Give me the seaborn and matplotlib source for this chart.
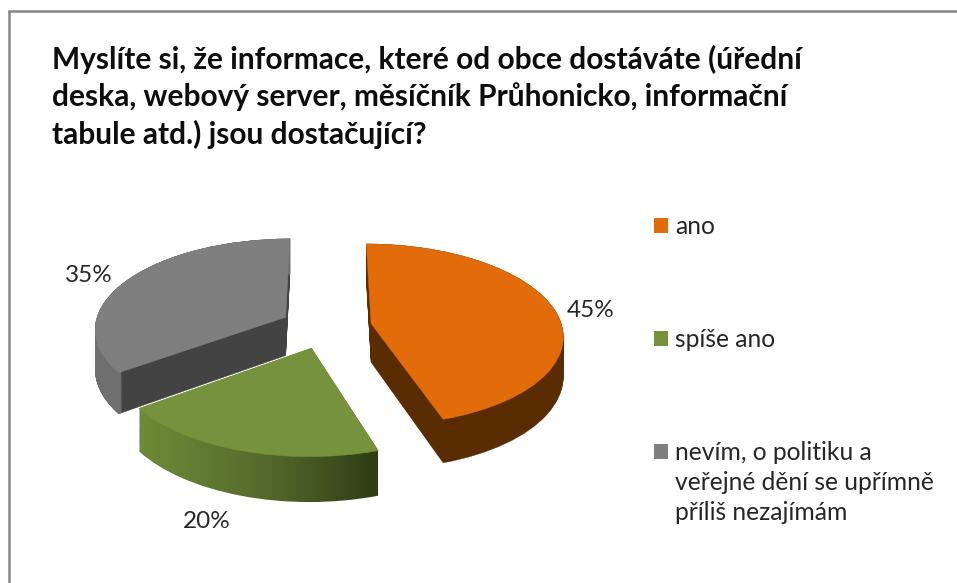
import numpy as np
import matplotlib
matplotlib.use("Agg")
import matplotlib.pyplot as plt
import seaborn as sns
from matplotlib.colors import LinearSegmentedColormap
from matplotlib.lines import Line2D
from matplotlib.patches import Rectangle
from matplotlib.path import Path
from matplotlib.transforms import Transform

title = ("Myslíte si, že informace, které od obce dostáváte (úřední\n"
         "deska, webový server, měsíčník Průhonicko, informační\n"
         "tabule atd.) jsou dostačující?")
categories = ["ano", "spíše ano",
              "nevím, o politiku a\nveřejné dění se upřímně\npříliš nezajímám"]
shares = [45, 20, 35]
top_colors = ["#e26b0a", "#76923c", "#7f7f7f"]
wall_colors = ["#5a2c01", "#76923c", "#434343"]

W, H = 957, 583
CX, CY = 326, 327
SX, SY = 191, 90
TILT = 0.12
DEPTH = 0.43


class Tilted(Transform):
    """Fake the perspective of a tilted pie, z pushes points down."""
    input_dims = output_dims = 2

    def __init__(self, z=0.0):
        super().__init__()
        self.z = z

    def transform_non_affine(self, values):
        values = np.asarray(values)
        w = 1 + TILT * values[:, 1]
        return np.column_stack([values[:, 0] / w, (values[:, 1] - self.z) / w])


def draw_pie(ax, z, zorders, colors, width=None):
    wedges, _ = ax.pie(shares, explode=[0.24] * 3, startangle=90, counterclock=False,
                       colors=colors, wedgeprops={"linewidth": 0.3, "width": width})
    for wedge, color, zorder in zip(wedges, colors, zorders):
        wedge.set_edgecolor(color)
        wedge.set_transform(Tilted(z) + ax.transData)
        wedge.set_zorder(zorder)
    return wedges


sns.set_theme(style="white")
plt.rcParams["font.family"] = ["Lato", "DejaVu Sans"]

fig = plt.figure(figsize=(W / 100, H / 100), dpi=100, facecolor="white")
ax = fig.add_axes([0, 0, 1, 1])

# side walls first, back slice to front slice
green_paths = []
for z in np.linspace(DEPTH, 0.0, 40):
    walls = draw_pie(ax, z, [30, 20, 10], wall_colors)
    walls[1].set_visible(False)
    green_paths.append(Tilted(z).transform_path(walls[1].get_path()))
    rim = draw_pie(ax, z, [30, 20, 11], ["none", "none", "#6f6f6f"], width=0.015)
    rim[0].set_visible(False)
    rim[1].set_visible(False)

fade = LinearSegmentedColormap.from_list("rim", ["#6f8c38", "#566c2c", "#2e3a15"])
image = ax.imshow(np.linspace(0, 1, 256).reshape(1, -1), cmap=fade, aspect="auto",
                  extent=(-1.0, 0.3, -2.0, 0.2), zorder=20)
image.set_clip_path(Path.make_compound_path(*green_paths), ax.transData)

tops = draw_pie(ax, 0.0, [31, 21, 12], top_colors)

ax.set_aspect("auto")
ax.set_xlim(-CX / SX, (W - CX) / SX)
ax.set_ylim((CY - H) / SY, CY / SY)

for share, (x, y) in zip(shares, [(591, 310), (207, 522), (89, 276)]):
    fig.text(x / W, 1 - y / H, f"{share}%", fontsize=17.5, color="#262626",
             ha="center", va="center")

fig.text(52 / W, 1 - 45 / H, title, fontsize=21.5, fontweight="bold", color="#0d0d0d",
         va="top", linespacing=1.35)

# legend by hand, the square sits on the first line of the long label
for label, color, y in zip(categories, top_colors, [218, 331, 444]):
    fig.add_artist(Rectangle((654 / W, 1 - (y + 15) / H), 14 / W, 15 / H, color=color, lw=0,
                             transform=fig.transFigure))
    fig.text(675 / W, 1 - (y - 3) / H, label, fontsize=17.7, color="#262626", va="top",
             linespacing=1.38)

fig.add_artist(Line2D([9 / W, 9 / W], [0, 1 - 11 / H], color="#868686", lw=1.8))
fig.add_artist(Line2D([9 / W, 1], [1 - 11 / H, 1 - 11 / H], color="#868686", lw=1.8))

fig.savefig("out.png", dpi=100)
